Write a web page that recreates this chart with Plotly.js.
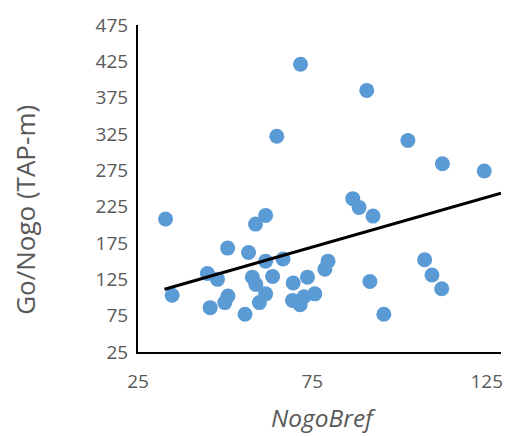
<!DOCTYPE html>
<html>
<head>
<meta charset="utf-8">
<script src="https://cdn.plot.ly/plotly-3.0.1.min.js"></script>
<style>html,body{margin:0;padding:0;background:#fff;}#chart{width:506px;height:436px;}</style>
</head>
<body>
<div id="chart"></div>
<script>
// NogoBref values (x)
const nogoBref = [32.9, 34.8, 44.9, 45.7, 47.8, 49.9, 50.8, 50.7, 55.7, 56.7,
  57.8, 58.8, 58.7, 61.6, 61.6, 61.6, 59.8, 63.6, 64.8, 66.6,
  69.3, 69.5, 71.5, 72.6, 73.6, 75.7, 71.6, 78.6, 79.5, 86.6,
  88.4, 90.6, 91.5, 92.4, 95.5, 102.4, 107.2, 109.3, 112.1, 112.3, 124.3];
// Go/Nogo (TAP-m) values (y)
const goNogo = [208, 103, 133, 86, 125, 93, 102, 168, 77, 162,
  128, 118, 201, 213, 150, 105, 93, 129, 322, 153,
  96, 120, 90, 101, 128, 105, 421, 139, 150, 236,
  224, 385, 122, 212, 77, 316, 152, 131, 112, 284, 274];
// linear trendline end points
const trendX = [32.6, 129.1];
const trendY = [111.3, 243.4];
const xTicks = [25, 75, 125];
const yTicks = [25, 75, 125, 175, 225, 275, 325, 375, 425, 475];
const xTitle = 'NogoBref';
const yTitle = 'Go/Nogo (TAP-m)';

const fontFam = '"Open Sans", Lato, sans-serif';
const grey = '#595959';
const data = [
  {x: nogoBref, y: goNogo, type: 'scatter', mode: 'markers',
   marker: {color: '#5B9BD5', size: 15}, showlegend: false, hoverinfo: 'x+y'},
  {x: trendX, y: trendY, type: 'scatter', mode: 'lines',
   line: {color: '#000000', width: 3}, showlegend: false, hoverinfo: 'skip'}
];
const layout = {
  width: 506, height: 436,
  margin: {l: 138, r: 5, t: 25, b: 84},
  paper_bgcolor: '#fff', plot_bgcolor: '#fff',
  font: {family: fontFam, color: grey, size: 19},
  xaxis: {
    range: [25, 129.1], tickvals: xTicks, ticktext: xTicks.map(String),
    showgrid: false, zeroline: false, showline: true, linecolor: '#000', linewidth: 2,
    ticks: '', ticklen: 0, ticklabelstandoff: 11, tickfont: {size: 19, color: grey}
  },
  yaxis: {
    range: [25, 475], tickvals: yTicks, ticktext: yTicks.map(String),
    showgrid: false, zeroline: false, showline: true, linecolor: '#000', linewidth: 2,
    ticks: '', ticklen: 0, ticklabelstandoff: 4, tickfont: {size: 19, color: grey}
  },
  annotations: [
    {text: '<i>' + xTitle + '</i>', xref: 'paper', yref: 'paper', x: 0.512, y: -0.2,
     xanchor: 'center', yanchor: 'middle', showarrow: false,
     font: {size: 24.5, color: grey, family: fontFam}},
    {text: yTitle, xref: 'paper', yref: 'paper', x: -0.311, y: 0.435, textangle: -90,
     xanchor: 'center', yanchor: 'middle', showarrow: false,
     font: {size: 26, color: grey, family: fontFam}}
  ]
};
Plotly.newPlot('chart', data, layout, {displayModeBar: false, staticPlot: true});
</script>
</body>
</html>
